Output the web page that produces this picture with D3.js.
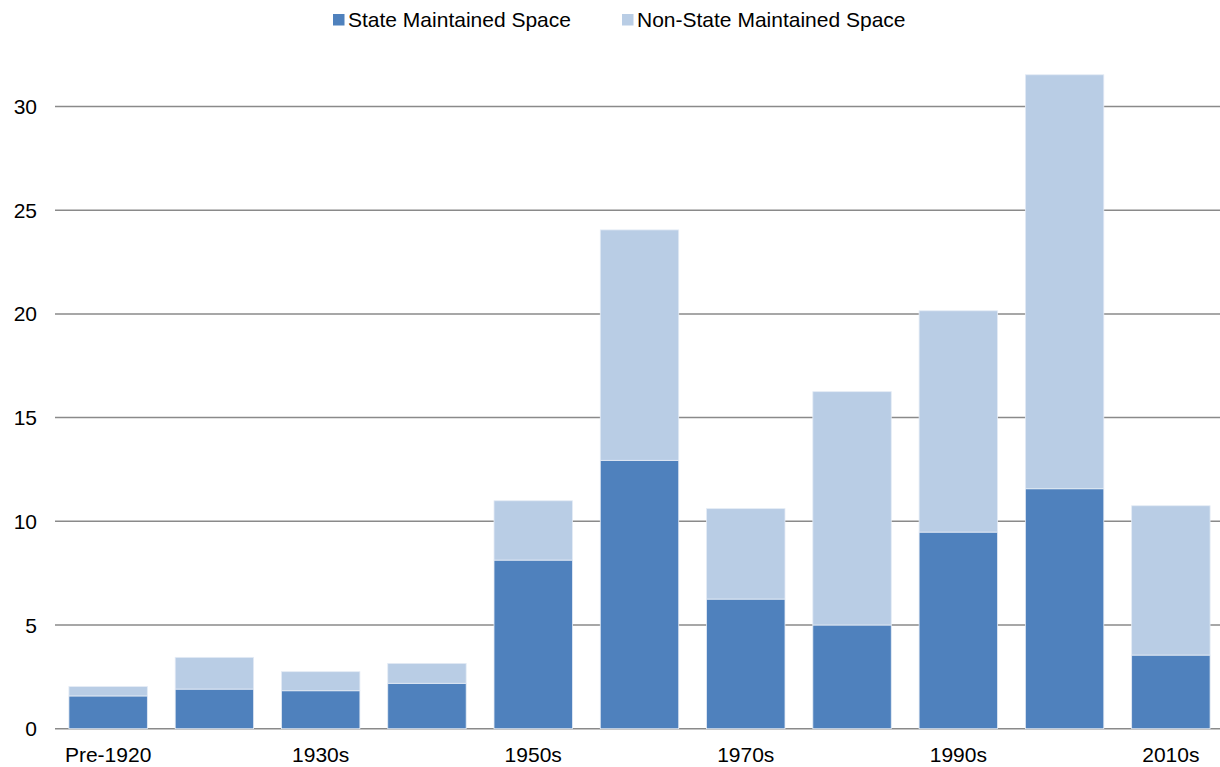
<!DOCTYPE html>
<html>
<head>
<meta charset="utf-8">
<script src="https://cdn.jsdelivr.net/npm/d3@7"></script>
<style>
  html, body { margin: 0; padding: 0; background: #fff; }
  svg { display: block; }
  text { font-family: "Liberation Sans", Arial, sans-serif; fill: #000; }
</style>
</head>
<body>
<svg id="chart" width="1220" height="767"></svg>
<script>
const categories = ["Pre-1920", "1920s", "1930s", "1940s", "1950s", "1960s", "1970s", "1980s", "1990s", "2000s", "2010s"];
const tickLabels = ["Pre-1920", "1930s", "1950s", "1970s", "1990s", "2010s"];
const stateValues = [1.58, 1.91, 1.83, 2.19, 8.13, 12.94, 6.25, 5.00, 9.48, 11.57, 3.55];
const nonStateValues = [0.45, 1.53, 0.92, 0.96, 2.86, 11.11, 4.36, 11.25, 10.67, 19.96, 7.20];
const seriesNames = ["State Maintained Space", "Non-State Maintained Space"];
const colors = ["#4F81BD", "#B9CDE5"];
const yTicks = [0, 5, 10, 15, 20, 25, 30];

const svg = d3.select("#chart");
const x = d3.scaleBand().domain(categories).range([55, 1224]).paddingInner(0.262).paddingOuter(0.131);
const y = d3.scaleLinear().domain([0, 30]).range([728.7, 106.5]);

// gridlines
svg.append("g").selectAll("line").data(yTicks).join("line")
  .attr("x1", 55).attr("x2", 1220)
  .attr("y1", d => y(d)).attr("y2", d => y(d))
  .attr("stroke", "#8a8a8a").attr("stroke-width", 1.5);

// y labels
svg.append("g").selectAll("text").data(yTicks).join("text")
  .attr("x", 37).attr("y", d => y(d))
  .attr("dy", "0.36em")
  .attr("text-anchor", "end")
  .attr("font-size", 21)
  .text(d => d);

// stacked data
const rows = categories.map((c, i) => ({ cat: c, s0: stateValues[i], s1: nonStateValues[i] }));
const stack = d3.stack().keys(["s0", "s1"])(rows);

svg.append("g").selectAll("g").data(stack).join("g")
  .attr("fill", (d, i) => colors[i])
  .selectAll("rect").data(d => d).join("rect")
  .attr("x", d => x(d.data.cat))
  .attr("width", x.bandwidth())
  .attr("y", d => y(d[1]))
  .attr("height", d => y(d[0]) - y(d[1]))
  .attr("stroke", "#e4ebf5").attr("stroke-width", 0.8);

// x labels
svg.append("g").selectAll("text").data(tickLabels).join("text")
  .attr("x", d => x(d) + x.bandwidth() / 2)
  .attr("y", 762)
  .attr("text-anchor", "middle")
  .attr("font-size", 21)
  .text(d => d);

// legend
const legendX = [333, 622];
const lg = svg.append("g").selectAll("g").data(seriesNames).join("g")
  .attr("transform", (d, i) => `translate(${legendX[i]},0)`);
lg.append("rect").attr("x", 0).attr("y", 14).attr("width", 11.5).attr("height", 11.5)
  .attr("fill", (d, i) => colors[i]);
lg.append("text").attr("x", 15).attr("y", 26.5).attr("font-size", 21).text(d => d);
</script>
</body>
</html>
